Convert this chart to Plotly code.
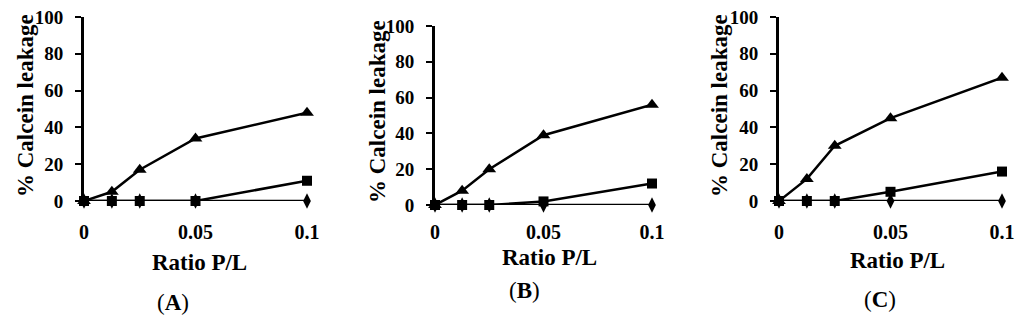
import plotly.graph_objects as go

ratio = [0, 0.0125, 0.025, 0.05, 0.1]
panels = ["A", "B", "C"]
triangle = {"A": [0, 5, 17, 34, 48], "B": [0, 8, 20, 39, 56], "C": [0, 12, 30, 45, 67]}
square = {"A": [0, 0, 0, 0, 11], "B": [0, 0, 0, 2, 12], "C": [0, 0, 0, 5, 16]}
diamond = {"A": [0, 0, 0, 0, 0], "B": [0, 0, 0, 0, 0], "C": [0, 0, 0, 0, 0]}
y_ticks = [0, 20, 40, 60, 80, 100]
x_ticks = [0, 0.05, 0.1]
x_ticklabels = ["0", "0.05", "0.1"]

OFF = 8  # page body margin
W, H = 1024 - OFF, 321 - OFF
FONT = "Liberation Serif"

geom = {
    "A": dict(x0=84, x1=307, yb=201, yt=17, tx=25, ty=106, lx=199, ly=262, px=173, py=302, so=17),
    "B": dict(x0=435, x1=652, yb=205, yt=26, tx=377, ty=112, lx=549, ly=257, px=524, py=290, so=13),
    "C": dict(x0=779, x1=1002, yb=201, yt=17, tx=719, ty=106, lx=897, ly=261, px=880, py=299, so=17),
}


def px(v):
    return (v - OFF) / W


def py(v):
    return 1 - (v - OFF) / H


fig = go.Figure()
annotations = []
for i, p in enumerate(panels):
    g = geom[p]
    xa = "x" if i == 0 else f"x{i+1}"
    ya = "y" if i == 0 else f"y{i+1}"
    for vals, sym, size in [(diamond[p], "diamond-tall", 11), (square[p], "square", 10), (triangle[p], "triangle-up", 12)]:
        fig.add_trace(go.Scatter(
            x=ratio, y=vals, mode="lines+markers", xaxis=xa, yaxis=ya,
            line=dict(color="black", width=2.5),
            marker=dict(symbol=sym, size=size, color="black"),
            cliponaxis=False, showlegend=False,
        ))
    xkey = "xaxis" if i == 0 else f"xaxis{i+1}"
    ykey = "yaxis" if i == 0 else f"yaxis{i+1}"
    fig.update_layout(**{
        xkey: dict(
            domain=[px(g["x0"]), px(g["x1"])], range=[0, 0.1], anchor=ya,
            showgrid=False, zeroline=False, showline=False, ticks="",
            tickvals=x_ticks, ticktext=x_ticklabels, ticklabelstandoff=g["so"],
            tickfont=dict(family=FONT, size=20, color="black", weight="bold"),
            automargin=False, fixedrange=True, ticklabeloverflow="allow",
        ),
        ykey: dict(
            domain=[py(g["yb"]), py(g["yt"])], range=[0, 100], anchor=xa,
            showgrid=False, zeroline=False, showline=True, linecolor="black", linewidth=3,
            ticks="outside", ticklen=6, tickwidth=2, tickcolor="black",
            tickvals=y_ticks, ticklabeloverflow="allow", ticklabelstandoff=8,
            tickfont=dict(family=FONT, size=19, color="black", weight="bold"),
            automargin=False, fixedrange=True,
        ),
    })
    annotations.append(dict(
        text="<b>% Calcein leakage</b>", x=px(g["tx"]), y=py(g["ty"]), xref="paper", yref="paper",
        textangle=-90, showarrow=False, xanchor="center", yanchor="middle",
        font=dict(family=FONT, size=23, color="black"),
    ))
    annotations.append(dict(
        text="<b>Ratio P/L</b>", x=px(g["lx"]), y=py(g["ly"]), xref="paper", yref="paper",
        showarrow=False, xanchor="center", yanchor="middle",
        font=dict(family=FONT, size=23, color="black"),
    ))
    annotations.append(dict(
        text=f"(<b>{p}</b>)", x=px(g["px"]), y=py(g["py"]), xref="paper", yref="paper",
        showarrow=False, xanchor="center", yanchor="middle",
        font=dict(family=FONT, size=23, color="black"),
    ))

fig.update_layout(
    width=W, height=H, margin=dict(l=0, r=0, t=0, b=0),
    paper_bgcolor="white", plot_bgcolor="white",
    annotations=annotations,
)
fig.write_html("out.html")
